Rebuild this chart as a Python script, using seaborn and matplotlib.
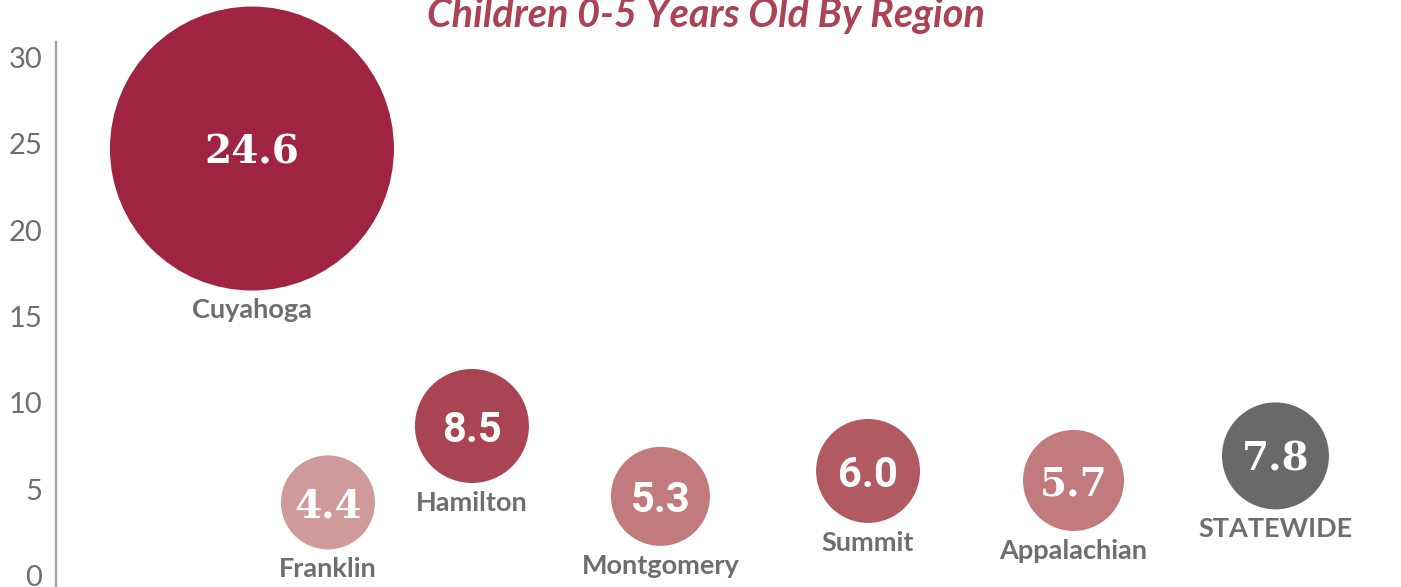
import numpy as np
import pandas as pd
import matplotlib
matplotlib.use("Agg")
import matplotlib.pyplot as plt
import seaborn as sns

# ---- data ----
regions = ["Cuyahoga", "Franklin", "Hamilton", "Montgomery", "Summit", "Appalachian", "STATEWIDE"]
value_labels = ["24.6", "4.4", "8.5", "5.3", "6.0", "5.7", "7.8"]
x_pos = [14.6, 20.25, 30.95, 44.96, 60.39, 75.66, 90.67]
y_pos = [24.71, 4.25, 8.67, 4.60, 6.07, 5.52, 6.94]
bubble_z = [201.6, 22.1, 32.5, 24.5, 27.0, 25.5, 28.6]
colors = ["#9f2442", "#d09a9a", "#a94452", "#c27b7c", "#b25a62", "#c27b7c", "#69696b"]
y_ticks = [0, 5, 10, 15, 20, 25, 30]

df = pd.DataFrame({"region": regions, "x": x_pos, "y": y_pos, "z": bubble_z})

sns.set_theme(style="white")
plt.rcParams["font.family"] = ["Lato", "DejaVu Sans"]

W, H, DPI = 14.01, 5.87, 100
fig = plt.figure(figsize=(W, H), dpi=DPI)
ax = fig.add_axes([55.5 / 1401, 0.0, 1 - 55.5 / 1401, 1 - 42 / 587])

zmax = max(bubble_z)
k = 207.36  # points^2 per z unit
sns.scatterplot(data=df, x="x", y="y", hue="region", palette=dict(zip(regions, colors)),
                size="z", sizes=(0, zmax * k), size_norm=(0, zmax),
                linewidth=0, alpha=1, legend=False, ax=ax, clip_on=False)

ax.set_xlim(0, 100)
ax.set_ylim(-0.64, 30.87)
ax.set_yticks(y_ticks)
ax.set_yticklabels([str(t) for t in y_ticks])
ax.set_xticks([])
ax.set_xlabel("")
ax.set_ylabel("")
for s in ["top", "right", "bottom"]:
    ax.spines[s].set_visible(False)
ax.spines["left"].set_color("#a0a0a0")
ax.spines["left"].set_linewidth(1.6)
ax.tick_params(axis="y", length=0, pad=9.5, labelsize=21, labelcolor="#6f6f6f")
for lab in ax.get_yticklabels():
    lab.set_fontweight("normal")

slab = {"24.6", "4.4", "5.7", "7.8"}
for xi, yi, zi, vl, reg in zip(x_pos, y_pos, bubble_z, value_labels, regions):
    r_pt = np.sqrt(zi * k) / 2
    if vl in slab:
        ax.text(xi, yi, vl, ha="center", va="center_baseline", color="white",
                fontsize=28, fontweight="bold", family=["DejaVu Serif"])
    else:
        ax.text(xi, yi, vl, ha="center", va="center_baseline", color="white",
                fontsize=30, fontweight="bold", family=["Roboto"])
    ax.annotate(reg, (xi, yi), xytext=(0, -(r_pt + 5.5)), textcoords="offset points",
                ha="center", va="top", fontsize=19.5, fontweight="bold", color="#6d6e71")

fig.text(706 / 1401, 1 - 27 / 587, "Children 0-5 Years Old By Region", ha="center",
         va="baseline", fontsize=28.5, fontweight="bold", style="italic", color="#aa4455")

fig.savefig("out.png", dpi=DPI)
